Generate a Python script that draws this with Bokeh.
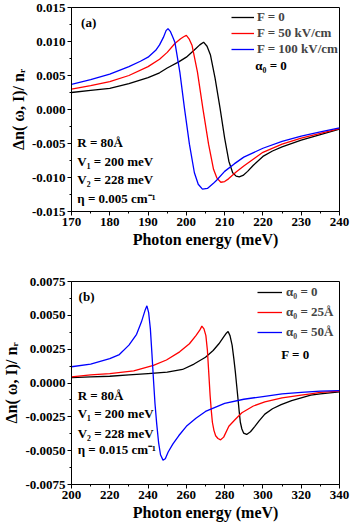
from bokeh.plotting import figure
from bokeh.layouts import column
from bokeh.models import Label, Legend, LegendItem, PrintfTickFormatter, FixedTicker, Range1d
from bokeh.embed import file_html
from bokeh.resources import INLINE

# ---------------- Panel (a) data ----------------
a_E_f0 = [170, 175, 180, 185, 190, 193, 195, 198, 200, 202, 203.5, 204.5, 205.4, 206.3, 207.5,
          208.8, 210.0, 211.1, 212.1, 213.0, 213.8, 214.8, 216, 217.5, 220, 222.5, 225, 230, 235, 240]
a_V_f0 = [0.0025, 0.0028, 0.0031, 0.0038, 0.0047, 0.0054, 0.0061, 0.0070, 0.0077, 0.0087, 0.0095,
          0.0099, 0.0093, 0.0080, 0.0046, 0.0002, -0.0042, -0.0076, -0.0093, -0.0098, -0.0099,
          -0.0097, -0.0091, -0.0082, -0.0069, -0.0061, -0.0055, -0.0045, -0.0037, -0.0029]

a_E_f50 = [170, 175, 180, 185, 190, 193, 195, 197, 198.5, 199.3, 200.0, 200.7, 201.5, 202.9, 204.3,
           205.8, 207.1, 208.0, 209.0, 210.0, 211.0, 213, 215, 218, 220, 225, 230, 235, 240]
a_V_f50 = [0.0030, 0.0035, 0.0041, 0.0050, 0.0063, 0.0074, 0.0084, 0.0097, 0.0104, 0.0107, 0.0109,
           0.0104, 0.0094, 0.0055, 0.0002, -0.0051, -0.0088, -0.0101, -0.0107, -0.0106, -0.0102,
           -0.0092, -0.0083, -0.0071, -0.0063, -0.0051, -0.0042, -0.0035, -0.0028]

a_E_f100 = [170, 175, 180, 185, 188, 190, 192, 193, 194, 194.7, 195.2, 195.8, 196.5, 197.0, 198.3,
            199.5, 200.8, 202.1, 203.1, 204.2, 205.5, 207, 207.9, 210, 212.5, 215, 220, 225, 230, 235, 240]
a_V_f100 = [0.0037, 0.0044, 0.0052, 0.0063, 0.0071, 0.0077, 0.0087, 0.0095, 0.0106, 0.0116, 0.0119,
            0.0115, 0.0106, 0.0099, 0.0055, 0.0002, -0.0051, -0.0093, -0.0110, -0.0117, -0.0116,
            -0.0109, -0.0104, -0.0091, -0.0080, -0.0070, -0.0057, -0.0047, -0.0039, -0.0033, -0.0027]

a_labels = ["F = 0", "F = 50 kV/cm", "F = 100 kV/cm"]
a_xticks = [170, 180, 190, 200, 210, 220, 230, 240]
a_yticks = [-0.015, -0.010, -0.005, 0.0, 0.005, 0.010, 0.015]

# ---------------- Panel (b) data ----------------
b_E_a0 = [200, 210, 220, 230, 240, 250, 258, 264, 270, 274, 277, 279.5, 281.0, 281.8, 282.8, 283.9,
          284.8, 285.6, 286.3, 287.0, 287.6, 288.2, 289.0, 289.9, 291.5, 293.5, 295.8, 298, 301, 305,
          309.5, 315, 320, 325, 330, 340]
b_V_a0 = [0.0004, 0.00045, 0.0005, 0.0006, 0.0007, 0.0008, 0.0010, 0.0014, 0.0019, 0.0024, 0.0029,
          0.0034, 0.0037, 0.0038, 0.0035, 0.0028, 0.0018, 0.0008, -0.0002, -0.0012, -0.0021, -0.0029,
          -0.0034, -0.0037, -0.0038, -0.0036, -0.0032, -0.0028, -0.0023, -0.0019, -0.0016, -0.0013,
          -0.0011, -0.0009, -0.0008, -0.00066]

b_E_a25 = [200, 210, 220, 232.5, 242.8, 249.6, 256.5, 261.6, 265, 267, 268.1, 269.2, 270.2, 271.0,
           271.6, 272.4, 273.0, 273.6, 274.4, 275.3, 276.5, 277.9, 279.5, 282.2, 285.5, 289, 295, 301,
           310, 320, 325, 330, 340]
b_V_a25 = [0.00046, 0.0006, 0.0007, 0.0009, 0.0013, 0.0017, 0.0023, 0.0029, 0.0035, 0.0039, 0.0042,
           0.0040, 0.0035, 0.0024, 0.0010, -0.0009, -0.0020, -0.0029, -0.0035, -0.0039, -0.0041,
           -0.0042, -0.0040, -0.0032, -0.0027, -0.0022, -0.0017, -0.0014, -0.0011, -0.0009, -0.0008,
           -0.0007, -0.0006]

b_E_a50 = [200, 210, 220, 225, 230, 234, 236.5, 238.5, 239.4, 240.3, 241.2, 242.0, 242.8, 243.6,
           244.5, 245.5, 246.5, 247.8, 249, 250.5, 253, 256, 260, 265, 270, 275, 280, 290, 300, 310,
           320, 330, 340]
b_V_a50 = [0.0012, 0.0014, 0.0018, 0.0021, 0.0028, 0.0036, 0.0045, 0.0054, 0.0057, 0.0052, 0.0040,
           0.0022, 0.0003, -0.0015, -0.0030, -0.0044, -0.0053, -0.0057, -0.0056, -0.0051, -0.0045,
           -0.0039, -0.0032, -0.0026, -0.0021, -0.0018, -0.0015, -0.0012, -0.0010, -0.0008, -0.0007,
           -0.0006, -0.00057]

b_labels = ["α₀ = 0", "α₀ = 25Å", "α₀ = 50Å"]
b_xticks = [200, 220, 240, 260, 280, 300, 320, 340]
b_yticks = [-0.0075, -0.0050, -0.0025, 0.0, 0.0025, 0.0050, 0.0075]

COLORS = ["#000000", "#ff0000", "#0000ff"]
FONT = "Liberation Serif"
YLABEL = "Δn( ω, I)/ nᵣ"
XLABEL = "Photon energy (meV)"


def make_fig(h, xr, yr, xt, xminor, yt, yminor, fmt, mb):
    p = figure(width=350, height=h, x_range=Range1d(*xr), y_range=Range1d(*yr),
               output_backend="svg", toolbar_location=None,
               min_border_left=mb[0], min_border_right=mb[1], min_border_top=mb[2],
               min_border_bottom=mb[3])
    p.xgrid.visible = False
    p.ygrid.visible = False
    p.outline_line_color = "black"
    p.outline_line_width = 1
    p.xaxis.ticker = FixedTicker(ticks=xt, minor_ticks=xminor)
    p.yaxis.ticker = FixedTicker(ticks=yt, minor_ticks=yminor)
    p.yaxis.formatter = PrintfTickFormatter(format=fmt)
    for ax in (p.xaxis, p.yaxis):
        ax.major_tick_out = 4
        ax.major_tick_in = 0
        ax.minor_tick_out = 2
        ax.minor_tick_in = 0
        ax.axis_line_color = "black"
        ax.major_tick_line_color = "black"
        ax.minor_tick_line_color = "black"
        ax.major_label_text_font = FONT
        ax.major_label_text_font_style = "bold"
        ax.major_label_text_font_size = "13px"
        ax.major_label_text_color = "black"
        ax.axis_label_text_font = FONT
        ax.axis_label_text_font_style = "bold"
        ax.axis_label_text_font_size = "16px"
        ax.axis_label_text_color = "black"
        ax.major_label_standoff = 2
        ax.axis_label_standoff = 2
    p.xaxis.axis_label = XLABEL
    p.yaxis.axis_label = YLABEL
    return p


def add_text(p, x, y, t, size="13px"):
    p.add_layout(Label(x=x, y=y, text=t, text_font=FONT, text_font_style="bold",
                       text_font_size=size, text_color="black", text_baseline="middle"))


# ---------- Panel (a) ----------
p1 = make_fig(258, (170, 240), (-0.015, 0.015), a_xticks,
              [175, 185, 195, 205, 215, 225, 235], a_yticks,
              [-0.0125, -0.0075, -0.0025, 0.0025, 0.0075, 0.0125], "%.3f", (61, 11, 7, 47))
rs = []
for E, V, c in zip([a_E_f0, a_E_f50, a_E_f100], [a_V_f0, a_V_f50, a_V_f100], COLORS):
    rs.append(p1.line(E, V, line_color=c, line_width=1.3))
leg1 = Legend(items=[LegendItem(label=l, renderers=[r]) for l, r in zip(a_labels, rs)],
              location=(160, 154), padding=0, margin=0, spacing=0,
              label_height=16, glyph_height=16, glyph_width=23, label_standoff=3,
              border_line_color=None, background_fill_alpha=0,
              label_text_font=FONT, label_text_font_style="bold", label_text_font_size="13px")
p1.add_layout(leg1)
add_text(p1, 172.5, 0.0128, "(a)")
add_text(p1, 218.0, 0.0065, "α₀ = 0")
add_text(p1, 171.5, -0.0049, "R = 80Å")
add_text(p1, 171.5, -0.0077, "V₁ = 200 meV")
add_text(p1, 171.5, -0.0103, "V₂ = 228 meV")
add_text(p1, 171.5, -0.0131, "η = 0.005 cm⁻¹")

# ---------- Panel (b) ----------
p2 = make_fig(267, (200, 340), (-0.0075, 0.0075), b_xticks,
              [210, 230, 250, 270, 290, 310, 330], b_yticks,
              [-0.00625, -0.00375, -0.00125, 0.00125, 0.00375, 0.00625], "%.4f", (67, 11, 23, 41))
rs2 = []
for E, V, c in zip([b_E_a0, b_E_a25, b_E_a50], [b_V_a0, b_V_a25, b_V_a50], COLORS):
    rs2.append(p2.line(E, V, line_color=c, line_width=1.3))
leg2 = Legend(items=[LegendItem(label=l, renderers=[r]) for l, r in zip(b_labels, rs2)],
              location=(186, 142), padding=0, margin=0, spacing=0,
              label_height=20, glyph_height=20, glyph_width=25, label_standoff=4,
              border_line_color=None, background_fill_alpha=0,
              label_text_font=FONT, label_text_font_style="bold", label_text_font_size="13px")
p2.add_layout(leg2)
add_text(p2, 203.7, 0.0064, "(b)")
add_text(p2, 309.6, 0.00214, "F = 0")
add_text(p2, 203.2, -0.00093, "R = 80Å")
add_text(p2, 203.2, -0.00228, "V₁ = 200 meV")
add_text(p2, 203.2, -0.00370, "V₂ = 228 meV")
add_text(p2, 203.2, -0.00495, "η = 0.015 cm⁻¹")

layout = column(p1, p2)
open("out.html", "w").write(file_html(layout, INLINE))
